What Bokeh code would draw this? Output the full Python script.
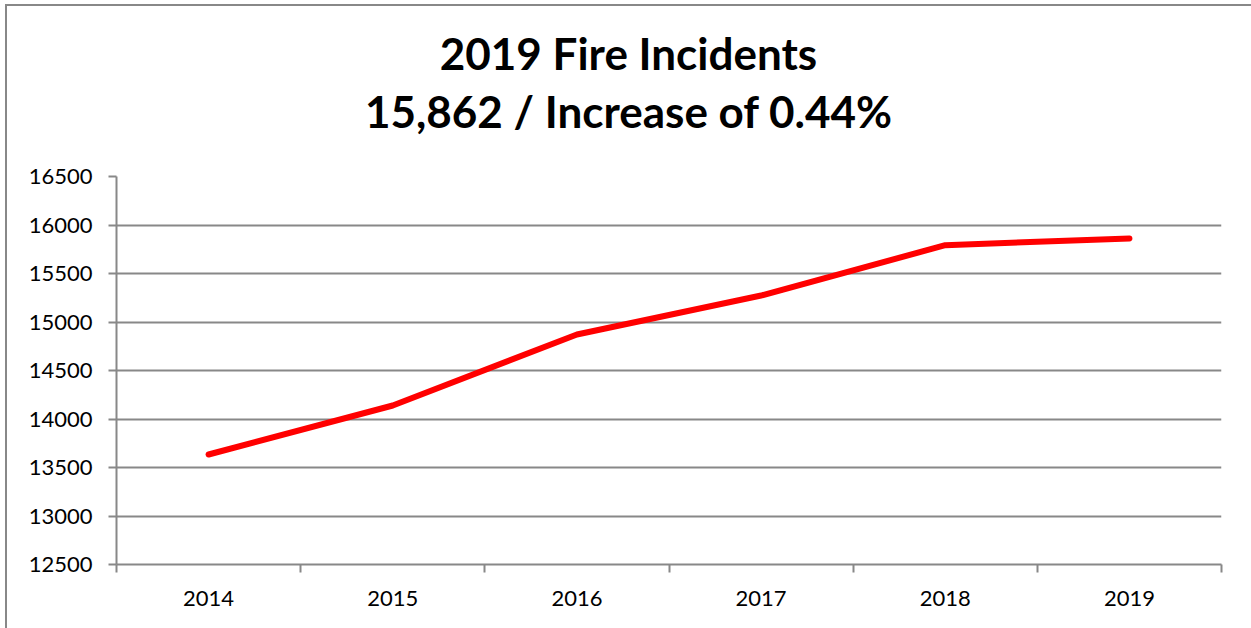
from bokeh.plotting import figure
from bokeh.models import FixedTicker, Range1d, ColumnDataSource, Div
from bokeh.layouts import column
from bokeh.embed import file_html
from bokeh.resources import INLINE

years = ["2014", "2015", "2016", "2017", "2018", "2019"]
incidents = [13634, 14139, 14871, 15273, 15792, 15862]
y_ticks = [12500, 13000, 13500, 14000, 14500, 15000, 15500, 16000, 16500]
title_line1 = "2019 Fire Incidents"
title_line2 = "15,862 / Increase of 0.44%"

xpos = [i + 0.5 for i in range(len(years))]
src = ColumnDataSource(dict(x=xpos, y=incidents, year=years))

GREY = "#888888"
W = 1241
DIV_H = 140

title_div = Div(
    text=(f'<div style="width:{W}px;text-align:center;font-family:Lato;font-weight:bold;'
          f'font-size:44px;line-height:58px;padding-top:13px;color:black;position:relative;left:-4px;">'
          f'{title_line1}<br>{title_line2}</div>'),
    width=W, height=DIV_H, styles={"background": "white"})

p = figure(width=W, height=472, output_backend="svg", toolbar_location=None,
           x_range=Range1d(0, len(years)), y_range=Range1d(y_ticks[0], y_ticks[-1]),
           min_border_left=109, min_border_right=27, min_border_top=20, min_border_bottom=64)
p.outline_line_color = None
p.background_fill_color = "white"
p.border_fill_color = "white"

p.line("x", "y", source=src, line_color="#ff0000", line_width=6, line_cap="round", line_join="round")

# x axis: labels at category centres, tick marks at category boundaries
p.xaxis.ticker = FixedTicker(ticks=xpos, minor_ticks=list(range(len(years) + 1)))
p.xaxis.major_label_overrides = {x: y for x, y in zip(xpos, years)}
p.xaxis.major_tick_out = 0
p.xaxis.major_tick_in = 0
p.xaxis.minor_tick_out = 8
p.xaxis.minor_tick_in = 0
p.xaxis.minor_tick_line_color = GREY
p.xaxis.minor_tick_line_width = 2
p.xaxis.axis_line_color = GREY
p.xaxis.axis_line_width = 2
p.xaxis.major_label_standoff = 18
p.xgrid.grid_line_color = None

p.yaxis.ticker = FixedTicker(ticks=y_ticks)
p.yaxis.major_tick_out = 8
p.yaxis.major_tick_in = 0
p.yaxis.minor_tick_line_color = None
p.yaxis.major_tick_line_color = GREY
p.yaxis.major_tick_line_width = 2
p.yaxis.axis_line_color = GREY
p.yaxis.axis_line_width = 2
p.yaxis.major_label_standoff = 16
p.ygrid.grid_line_color = GREY
p.ygrid.grid_line_width = 2

for ax in (p.xaxis, p.yaxis):
    ax.major_label_text_font = "Lato"
    ax.major_label_text_font_size = "22px"
    ax.major_label_text_color = "black"

layout = column(title_div, p, spacing=0,
                styles={"border-top": "2px solid #888888", "border-left": "2px solid #888888",
                        "border-right": "2px solid #888888", "margin-left": "5px", "margin-top": "4px",
                        "background": "white"})

open("out.html", "w").write(file_html(layout, INLINE))
